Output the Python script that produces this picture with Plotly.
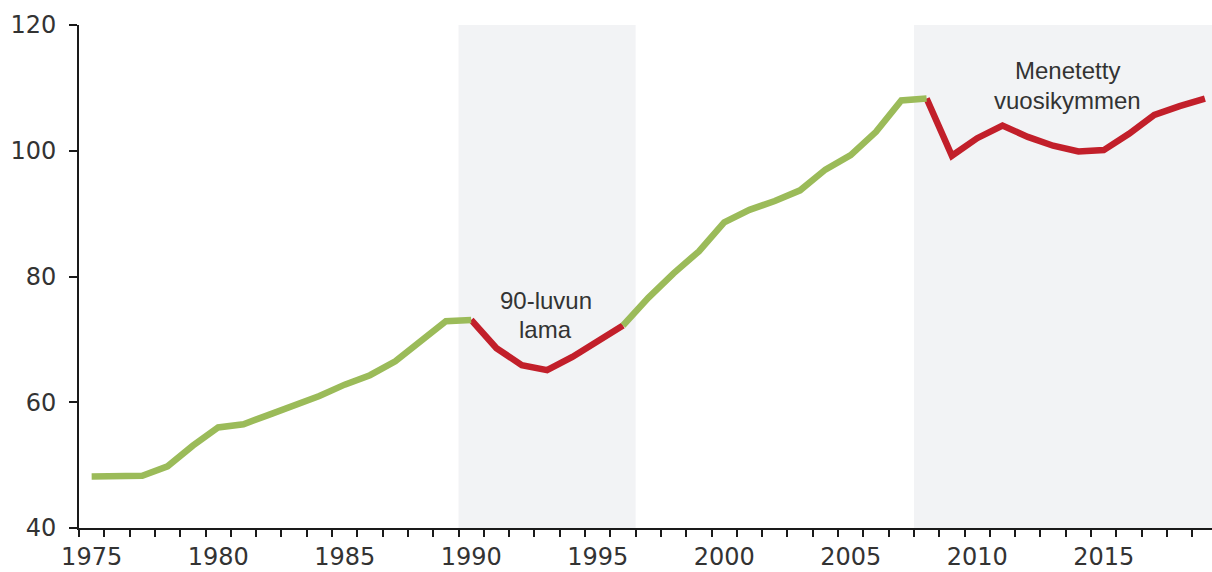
import plotly.graph_objects as go

years = list(range(1975, 2020))
values = [48.2, 48.3, 48.3, 49.8, 53.1, 56.0, 56.5, 58.0, 59.5, 61.0,
          62.8, 64.3, 66.5, 69.6, 72.9, 73.1, 68.6, 65.9, 65.1, 67.2,
          69.8, 72.2, 76.6, 80.5, 84.0, 88.6, 90.6, 92.0, 93.7, 97.0,
          99.3, 103.0, 108.0, 108.3, 99.2, 102.0, 104.0, 102.2, 100.8,
          99.9, 100.1, 102.7, 105.7, 107.1, 108.3]

# (start year, end year, kind)
segments = [(1975, 1990, "growth"), (1990, 1996, "crisis"),
            (1996, 2008, "growth"), (2008, 2019, "crisis")]
shaded_periods = [(1990, 1996), (2008, 2019)]
label_lines = [("90-luvun", 1992.95, 76.2), ("lama", 1992.95, 71.6),
               ("Menetetty", 2013.55, 112.7), ("vuosikymmen", 2013.55, 108.0)]
x_tick_years = [1975, 1980, 1985, 1990, 1995, 2000, 2005, 2010, 2015]
y_ticks = [40, 60, 80, 100, 120]

colors = {"growth": "#9BBB59", "crisis": "#C21F2A"}
FONT = "Liberation Sans, Arial, sans-serif"
TICKFONT = "DejaVu Sans, Liberation Sans, sans-serif"
TXT = "#333333"

fig = go.Figure()

for s, e in shaded_periods:
    fig.add_shape(type="rect", xref="x", yref="y", x0=s - 0.5, x1=e + 0.5,
                  y0=40, y1=120, fillcolor="#F2F3F5", line_width=0, layer="below")

# draw crisis segments first, growth on top
for kind_order in ["crisis", "growth"]:
    for s, e, kind in segments:
        if kind != kind_order:
            continue
        i0, i1 = years.index(s), years.index(e)
        fig.add_trace(go.Scatter(x=years[i0:i1 + 1], y=values[i0:i1 + 1],
                                 mode="lines", line=dict(color=colors[kind], width=6.5),
                                 hoverinfo="skip", showlegend=False, cliponaxis=False))

for txt, xx, yy in label_lines:
    fig.add_annotation(x=xx, y=yy, text=txt, showarrow=False, xanchor="center",
                       yanchor="middle", font=dict(family=FONT, size=24, color=TXT))

fig.update_xaxes(range=[1974.5, 2019.28], tickvals=x_tick_years,
                 ticktext=[str(y) for y in x_tick_years], ticks="", automargin=False,
                 showline=True, linecolor="#1a1a1a", linewidth=2, showgrid=False,
                 zeroline=False, ticklabelstandoff=6,
                 tickfont=dict(family=TICKFONT, size=24, color=TXT),
                 minor=dict(tick0=1974.5, dtick=1, ticks="outside", ticklen=7,
                            tickwidth=2, tickcolor="#1a1a1a", showgrid=False))
fig.update_yaxes(range=[40, 120], tickvals=y_ticks, ticks="outside", ticklen=8,
                 tickwidth=2, tickcolor="#1a1a1a", showline=True, linecolor="#1a1a1a",
                 linewidth=2, showgrid=False, zeroline=False, ticklabelstandoff=8,
                 automargin=False, tickfont=dict(family=TICKFONT, size=24, color=TXT))

fig.update_layout(width=1212, height=572, margin=dict(l=79, r=0, t=25, b=44),
                  plot_bgcolor="white", paper_bgcolor="white")

fig.write_html("out.html", config={"displayModeBar": False},
               post_script="document.body.style.margin='0';"
                           "document.body.style.overflow='hidden';")
